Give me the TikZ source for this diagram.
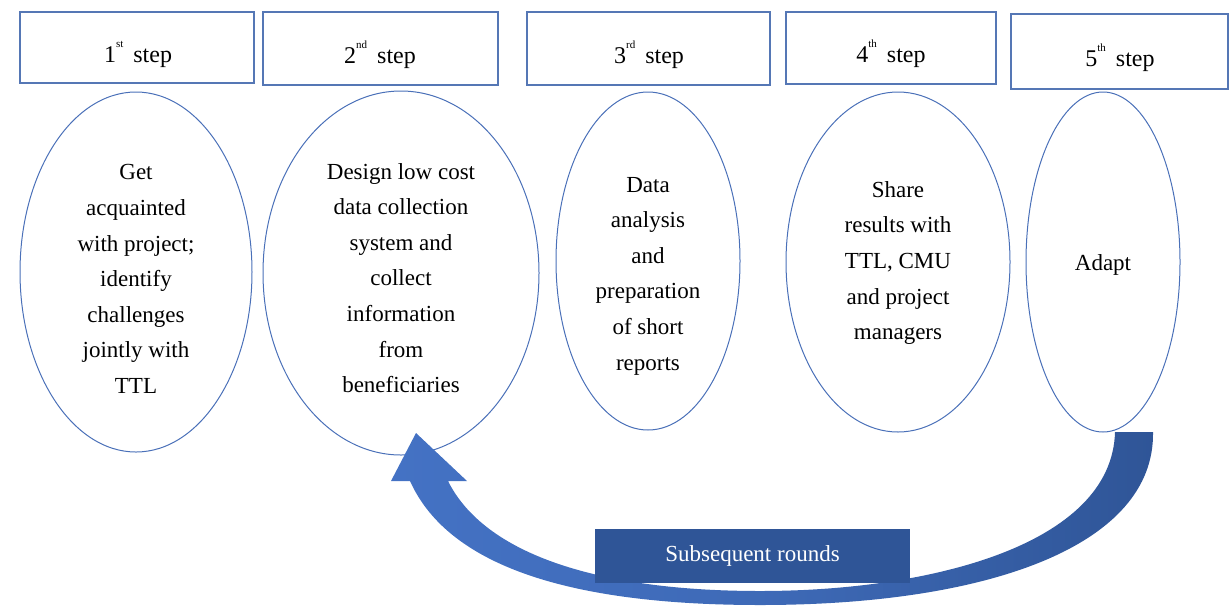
\documentclass[tikz,border=0pt]{standalone}
\usepackage{fontspec}
\setmainfont{Liberation Serif}
\usetikzlibrary{shapes.geometric}
\definecolor{edgeblue}{HTML}{4A70B8}
\definecolor{boxline}{HTML}{5577B5}
\definecolor{lightarrow}{HTML}{4472C4}
\definecolor{darkarrow}{HTML}{2F5597}
\tikzset{
  stepbox/.style={draw=boxline, line width=1.3pt, rectangle, inner sep=0pt},
  steplabel/.style={font=\fontsize{24}{28}\selectfont, anchor=base},
  phase/.style={draw=edgeblue, line width=1pt, ellipse, inner sep=0pt},
  phasetext/.style={align=center, font=\fontsize{23}{35.6}\selectfont, inner sep=0pt},
  roundsbox/.style={fill=darkarrow, draw=none, minimum width=315pt, minimum height=54pt,
    text=white, font=\fontsize{23}{28}\selectfont}
}
\newcommand{\ordsup}[1]{\raisebox{0.6em}{\fontsize{11}{12}\selectfont #1}\,}
\begin{document}
\begin{tikzpicture}[x=1pt,y=-1pt]
\useasboundingbox (0,0) rectangle (1231,606);

% step header boxes
\node[stepbox, minimum width=234pt, minimum height=71pt] (b1) at (137,47.5) {};
\node[stepbox, minimum width=235pt, minimum height=73pt] (b2) at (380.5,48.5) {};
\node[stepbox, minimum width=243pt, minimum height=73pt] (b3) at (648.5,48.5) {};
\node[stepbox, minimum width=210pt, minimum height=72pt] (b4) at (891,48) {};
\node[stepbox, minimum width=217pt, minimum height=75pt] (b5) at (1119.5,51.5) {};

\node[steplabel] (s1) at (138,62) {1\ordsup{st} step};
\node[steplabel] (s2) at (380,63) {2\ordsup{nd} step};
\node[steplabel] (s3) at (649,63) {3\ordsup{rd} step};
\node[steplabel] (s4) at (891,62) {4\ordsup{th} step};
\node[steplabel] (s5) at (1120,66) {5\ordsup{th} step};

% phase ellipses
\node[phase, minimum width=232pt, minimum height=360pt] (e1) at (136,272) {};
\node[phase, minimum width=276pt, minimum height=364pt] (e2) at (401,273) {};
\node[phase, minimum width=184pt, minimum height=338pt] (e3) at (648,261) {};
\node[phase, minimum width=224pt, minimum height=340pt] (e4) at (898,262) {};
\node[phase, minimum width=154pt, minimum height=340pt] (e5) at (1103,262) {};

\node[phasetext] (t1) at (136,279) {Get\\acquainted\\with project;\\identify\\challenges\\jointly with\\TTL};
\node[phasetext] (t2) at (401,278) {Design low cost\\data collection\\system and\\collect\\information\\from\\beneficiaries};
\node[phasetext] (t3) at (648,276) {Data\\analysis\\and\\preparation\\of short\\reports};
\node[phasetext] (t4) at (898,263) {Share\\results with\\TTL, CMU\\and project\\managers};
\node[phasetext] (t5) at (1103,265) {Adapt};

% curved feedback arrow from the 5th step back to the 2nd step
\coordinate (tailout) at (1153,432);
\coordinate (tailin) at (1115,432);
\coordinate (tip) at (416,433);
\shade[left color=lightarrow, right color=darkarrow, middle color=lightarrow!70!darkarrow]
  (tailout) .. controls (1155,545) and (990,605) .. (760,605)
  .. controls (580,605) and (450,570) .. (410,481)
  -- (391,481) -- (tip) -- (467,481) -- (448,481)
  .. controls (485,555) and (600,591) .. (760,591)
  .. controls (930,591) and (1112,545) .. (tailin) -- cycle;

\node[roundsbox] (rounds) at (752.5,556) {Subsequent rounds};
\end{tikzpicture}
\end{document}
